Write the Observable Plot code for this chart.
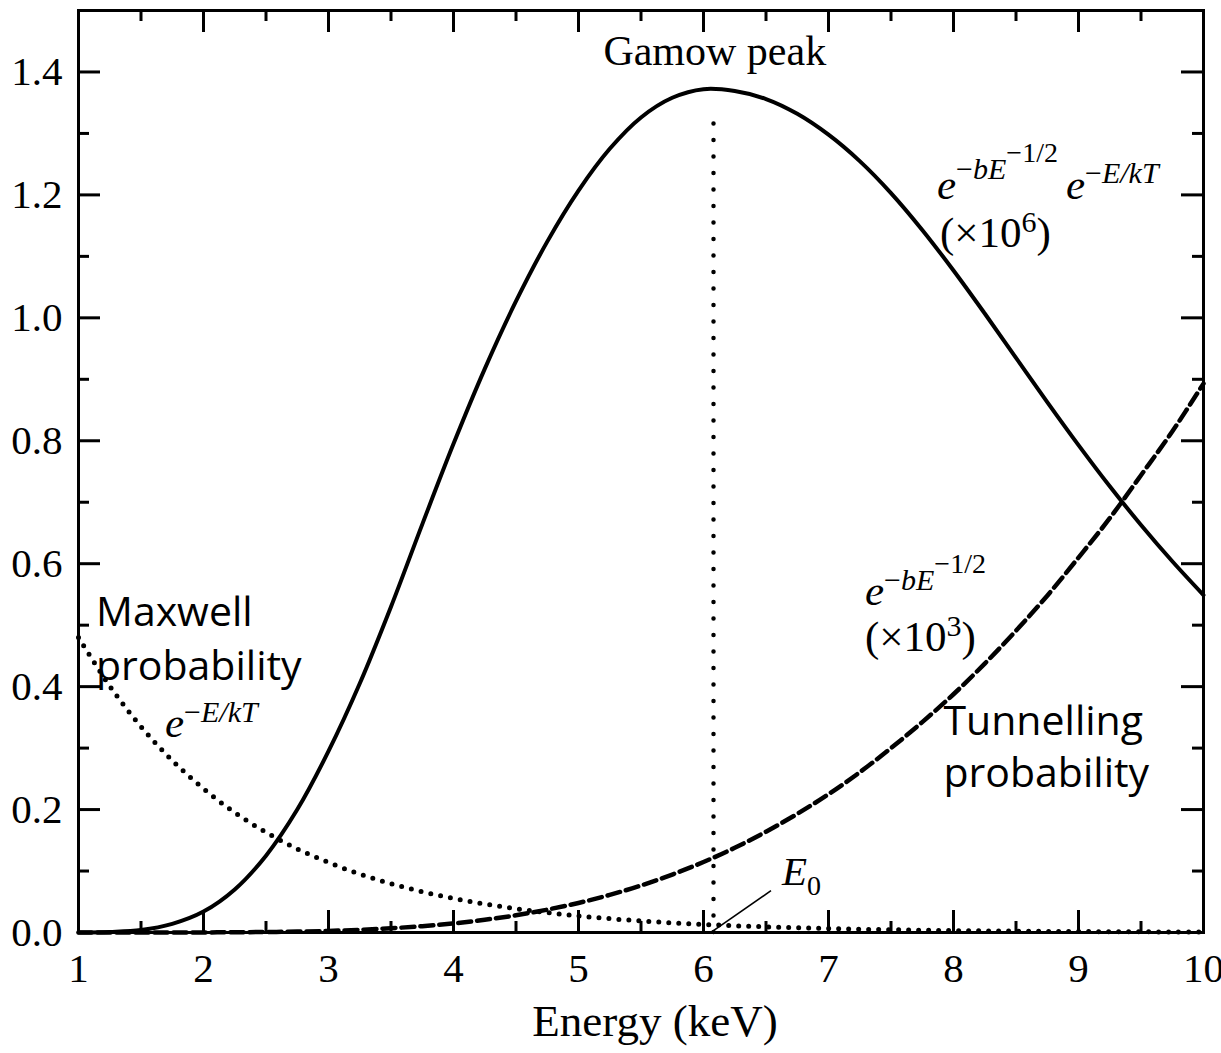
<!DOCTYPE html>
<html><head><meta charset="utf-8">
<script src="https://cdn.jsdelivr.net/npm/d3@7"></script>
<script src="https://cdn.jsdelivr.net/npm/@observablehq/plot@0.6"></script>
<style>html,body{margin:0;padding:0;background:#fff;}#chart svg{display:block;}</style>
</head><body><div id="chart"></div>
<script>
// ---- data ----
const energy = [1.00,1.25,1.50,1.75,2.00,2.25,2.50,2.75,3.00,3.25,3.50,3.75,4.00,4.25,4.50,4.75,5.00,5.25,5.50,5.75,6.00,6.25,6.50,6.75,7.00,7.25,7.50,7.75,8.00,8.25,8.50,8.75,9.00,9.25,9.50,9.75,10.00];
const gamowProduct = [0.000,0.001,0.004,0.014,0.034,0.070,0.125,0.200,0.295,0.405,0.530,0.664,0.795,0.917,1.027,1.124,1.207,1.275,1.326,1.358,1.372,1.369,1.356,1.332,1.298,1.255,1.203,1.143,1.077,1.007,0.935,0.863,0.793,0.726,0.663,0.604,0.549];
const tunnelling = [0.0000,0.0000,0.0000,0.0000,0.0001,0.0004,0.0008,0.0015,0.0026,0.0044,0.0069,0.0103,0.0148,0.0207,0.0280,0.0372,0.0481,0.0612,0.0765,0.0943,0.1147,0.1378,0.1640,0.1930,0.2250,0.2607,0.3000,0.3423,0.3876,0.4375,0.4910,0.5480,0.6100,0.6740,0.7440,0.8150,0.8930];
const maxwell = [0.480,0.401,0.335,0.280,0.234,0.195,0.163,0.136,0.114,0.095,0.0794,0.0664,0.0555,0.0463,0.0387,0.0323,0.0270,0.0225,0.0188,0.0157,0.0131,0.0110,0.0092,0.0077,0.0064,0.0053,0.0045,0.0037,0.0031,0.0026,0.0022,0.0018,0.0015,0.0013,0.0011,0.0009,0.0007];
const peakEnergy = 6.08;
const peakLineTop = 1.338;
const xTicks = [1,2,3,4,5,6,7,8,9,10];
const xMinorTicks = [1.5,2.5,3.5,4.5,5.5,6.5,7.5,8.5,9.5];
const yTicks = [0,0.2,0.4,0.6,0.8,1.0,1.2,1.4];
const yMinorTicks = [0.1,0.3,0.5,0.7,0.9,1.1,1.3];
const xLabel = "Energy (keV)";

// ---- layout ----
const W = 1221, H = 1053;
const mL = 78, mR = 18, mT = 10, mB = 121;
const innerW = W - mL - mR, innerH = H - mT - mB;
const major = 22, minor = 11;

const rows = energy.map((e, i) => ({e, g: gamowProduct[i], t: tunnelling[i], m: maxwell[i]}));

const plot = Plot.plot({
  width: W, height: H,
  marginLeft: mL, marginRight: mR, marginTop: mT, marginBottom: mB,
  x: {domain: [1, 10]},
  y: {domain: [0, 1.5]},
  style: {fontFamily: "Liberation Serif", background: "white", color: "black", overflow: "visible"},
  marks: [
    Plot.line(rows, {x: "e", y: "m", stroke: "black", strokeWidth: 5, strokeDasharray: "0 10", strokeLinecap: "round", curve: "catmull-rom"}),
    Plot.line(rows, {x: "e", y: "t", stroke: "black", strokeWidth: 4.5, strokeDasharray: "13 6", curve: "catmull-rom"}),
    Plot.line(rows, {x: "e", y: "g", stroke: "black", strokeWidth: 4, curve: "catmull-rom"}),
    Plot.ruleX([peakEnergy], {y1: 0, y2: peakLineTop, stroke: "black", strokeWidth: 4.5, strokeDasharray: "0 16.5", strokeLinecap: "round"}),
    Plot.link([{x1: 6.08, y1: 0.003, x2: 6.54, y2: 0.068}], {x1: "x1", y1: "y1", x2: "x2", y2: "y2", stroke: "black", strokeWidth: 1.6}),
    // inward ticks on all four sides
    Plot.tickX(xTicks, {x: d => d, insetTop: innerH - major, strokeWidth: 3}),
    Plot.tickX(xMinorTicks, {x: d => d, insetTop: innerH - minor, strokeWidth: 3}),
    Plot.tickX(xTicks, {x: d => d, insetBottom: innerH - major, strokeWidth: 3}),
    Plot.tickX(xMinorTicks, {x: d => d, insetBottom: innerH - minor, strokeWidth: 3}),
    Plot.tickY(yTicks, {y: d => d, insetRight: innerW - major, strokeWidth: 3}),
    Plot.tickY(yMinorTicks, {y: d => d, insetRight: innerW - minor, strokeWidth: 3}),
    Plot.tickY(yTicks, {y: d => d, insetLeft: innerW - major, strokeWidth: 3}),
    Plot.tickY(yMinorTicks, {y: d => d, insetLeft: innerW - minor, strokeWidth: 3}),
    Plot.frame({stroke: "black", strokeWidth: 3}),
    Plot.axisX({ticks: xTicks, tickSize: 0, tickPadding: 20, fontSize: 41, label: null, tickFormat: d => String(d)}),
    Plot.axisY({ticks: yTicks, tickSize: 0, tickPadding: 16, fontSize: 41, label: null, tickFormat: d => d.toFixed(1)}),
    Plot.text([xLabel], {frameAnchor: "bottom", text: d => d, dx: 14, dy: 103, lineAnchor: "bottom", fontSize: 45}),
    Plot.text(["Gamow peak"], {x: 6.09, y: 1.411, text: d => d, lineAnchor: "bottom", textAnchor: "middle", fontSize: 42}),
    Plot.text(["Maxwell\nprobability"], {x: 1.14, y: 0.41, text: d => d, lineAnchor: "bottom", textAnchor: "start", fontSize: 41, lineHeight: 1.34, fontFamily: "Open Sans"}),
    Plot.text(["Tunnelling\nprobability"], {x: 7.92, y: 0.236, text: d => d, lineAnchor: "bottom", textAnchor: "start", fontSize: 41, lineHeight: 1.27, fontFamily: "Open Sans"})
  ]
});

document.getElementById("chart").appendChild(plot);

// ---- math annotations (real text with superscripts), placed through the plot's scales ----
const sx = plot.scale("x"), sy = plot.scale("y");
const svg = d3.select(plot);
function mathLabel(E, v, parts, base) {
  const x0 = sx.apply(E), y0 = sy.apply(v);
  const t = svg.append("text")
    .attr("x", x0).attr("y", y0)
    .attr("text-anchor", "start")
    .attr("font-family", "Liberation Serif")
    .attr("font-size", base)
    .attr("fill", "black");
  for (const p of parts) {
    const s = t.append("tspan").text(p.t)
      .attr("text-anchor", "start")
      .attr("y", y0 + (p.dy || 0))
      .attr("font-size", p.size || base)
      .attr("font-style", p.italic ? "italic" : "normal");
    if (p.dx) s.attr("dx", p.dx);
  }
}
// e^{-bE^{-1/2}} e^{-E/kT}  (x10^6)
mathLabel(7.872, 1.192, [
  {t: "e", italic: true},
  {t: "\u2212", dy: -20, size: 30},
  {t: "bE", dy: -20, size: 30, italic: true},
  {t: "\u22121/2", dy: -37, size: 28},
  {t: "e", dy: 0, italic: true, dx: 8},
  {t: "\u2212", dy: -16, size: 30},
  {t: "E/kT", dy: -16, size: 30, italic: true}
], 43);
mathLabel(7.896, 1.115, [
  {t: "(\u00d710"},
  {t: "6", dy: -15, size: 30},
  {t: ")", dy: 0}
], 43);
// e^{-bE^{-1/2}} (x10^3)
mathLabel(7.296, 0.532, [
  {t: "e", italic: true},
  {t: "\u2212", dy: -15, size: 30},
  {t: "bE", dy: -15, size: 30, italic: true},
  {t: "\u22121/2", dy: -32, size: 28}
], 43);
mathLabel(7.296, 0.457, [
  {t: "(\u00d710"},
  {t: "3", dy: -15, size: 30},
  {t: ")", dy: 0}
], 43);
// e^{-E/kT}
mathLabel(1.696, 0.317, [
  {t: "e", italic: true},
  {t: "\u2212", dy: -15, size: 30},
  {t: "E/kT", dy: -15, size: 30, italic: true}
], 43);
// E_0
mathLabel(6.632, 0.0765, [
  {t: "E", italic: true},
  {t: "0", dy: 10, size: 28}
], 41);
</script></body></html>
